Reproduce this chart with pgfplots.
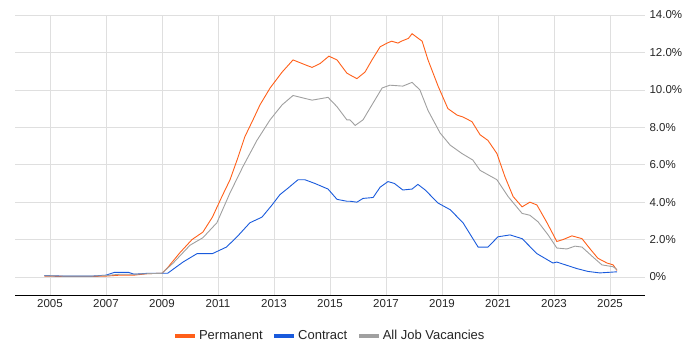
\documentclass[border=0pt]{standalone}
\usepackage{pgfplots}
\pgfplotsset{compat=1.18}
\usepackage{fontspec}
\setmainfont{Liberation Sans}
\definecolor{perm}{RGB}{255,95,25}
\definecolor{contr}{RGB}{25,90,220}
\definecolor{allj}{RGB}{160,160,160}
\begin{document}
\begin{tikzpicture}
\begin{axis}[
  scale only axis, width=630pt, height=280pt,
  xmin=2003.75, xmax=2026.25, ymin=-0.96, ymax=14,
  axis x line*=bottom, axis y line*=right,
  y axis line style={draw=none},
  x axis line style={black, line width=0.9pt, -},
  xtick={2005,2007,...,2025},
  xticklabels={2005,2007,2009,2011,2013,2015,2017,2019,2021,2023,2025},
  ytick={0,2,...,14},
  yticklabels={0\%,2.0\%,4.0\%,6.0\%,8.0\%,10.0\%,12.0\%,14.0\%},
  ytick style={draw=none},
  xtick style={draw=none},
  grid=major, major grid style={gray!25, line width=0.6pt},
  ticklabel style={font=\fontsize{11.5}{13}\selectfont, text=black!85},
  yticklabel style={anchor=west, xshift=1pt},
  xticklabel style={yshift=-1pt},
  legend style={at={(0.5,-0.146)}, anchor=center, draw=none, legend columns=3,
    font=\fontsize{13}{15}\selectfont, text=black!85,
    /tikz/every even column/.append style={column sep=8pt}},
  legend image code/.code={\draw[line width=3.5pt,#1] (0pt,0pt) -- (20pt,0pt);},
  every axis plot/.append style={line width=0.9pt},
]
\addplot[perm] coordinates {
(2004.8,0.05)(2005.5,0.03)(2006.5,0.03)(2007,0.05)(2007.5,0.1)(2008,0.1)(2008.5,0.18)(2009,0.2)
(2009.2,0.5)(2009.64,1.3)(2010.07,2.0)(2010.46,2.4)(2010.8,3.2)(2011.14,4.3)(2011.43,5.2)
(2011.68,6.25)(2011.96,7.5)(2012.25,8.4)(2012.5,9.2)(2012.86,10.1)(2013.29,10.95)(2013.68,11.6)
(2014.18,11.3)(2014.36,11.2)(2014.64,11.4)(2014.96,11.8)(2015.25,11.6)(2015.6,10.9)(2015.71,10.8)
(2015.96,10.6)(2016.25,10.95)(2016.5,11.6)(2016.79,12.3)(2017.04,12.5)(2017.2,12.6)(2017.43,12.5)
(2017.55,12.6)(2017.8,12.75)(2017.93,13.0)(2018.29,12.6)(2018.5,11.6)(2018.86,10.2)(2019.21,9.0)
(2019.54,8.65)(2019.75,8.55)(2020.07,8.3)(2020.36,7.6)(2020.64,7.3)(2020.96,6.6)(2021.25,5.35)
(2021.54,4.3)(2021.86,3.75)(2022.14,4.0)(2022.39,3.85)(2022.75,2.9)(2023.1,1.9)(2023.32,2.0)
(2023.64,2.2)(2024.0,2.05)(2024.29,1.5)(2024.57,1.0)(2024.89,0.75)(2025.11,0.65)(2025.25,0.35)
};
\addlegendentry{Permanent}
\addplot[contr] coordinates {
(2004.8,0.08)(2005.5,0.05)(2006.5,0.05)(2007,0.1)(2007.3,0.25)(2007.8,0.25)(2008,0.15)(2008.5,0.2)(2009,0.2)
(2009.2,0.2)(2009.75,0.8)(2010.25,1.25)(2010.8,1.25)(2011.3,1.6)(2011.68,2.15)(2012.14,2.9)
(2012.57,3.2)(2012.93,3.85)(2013.21,4.4)(2013.5,4.75)(2013.86,5.2)(2014.1,5.2)(2014.46,5.0)
(2014.93,4.7)(2015.25,4.15)(2015.6,4.05)(2015.71,4.05)(2015.96,4.0)(2016.18,4.2)(2016.54,4.25)
(2016.79,4.8)(2017.07,5.1)(2017.3,5.0)(2017.6,4.65)(2017.93,4.7)(2018.14,4.95)(2018.4,4.65)
(2018.86,3.95)(2019.29,3.6)(2019.75,2.9)(2020.29,1.6)(2020.64,1.6)(2021.0,2.15)(2021.43,2.25)
(2021.86,2.05)(2022.39,1.25)(2022.96,0.75)(2023.1,0.8)(2023.82,0.45)(2024.21,0.3)(2024.64,0.22)(2025.25,0.28)
};
\addlegendentry{Contract}
\addplot[allj] coordinates {
(2004.8,0.07)(2005.5,0.05)(2006.5,0.05)(2007,0.08)(2007.5,0.15)(2008,0.15)(2008.5,0.18)(2009,0.2)
(2009.4,0.75)(2010.0,1.7)(2010.46,2.1)(2010.96,2.9)(2011.43,4.5)(2011.89,5.9)(2012.39,7.3)
(2012.86,8.4)(2013.29,9.2)(2013.68,9.7)(2014.36,9.45)(2014.93,9.6)(2015.25,9.1)(2015.6,8.4)
(2015.71,8.4)(2015.9,8.1)(2016.18,8.4)(2016.6,9.45)(2016.86,10.1)(2017.14,10.25)(2017.6,10.2)
(2017.93,10.4)(2018.21,10.0)(2018.5,8.9)(2018.93,7.7)(2019.29,7.05)(2019.71,6.6)(2020.1,6.25)
(2020.36,5.7)(2020.96,5.2)(2021.36,4.3)(2021.86,3.4)(2022.14,3.3)(2022.43,2.95)(2022.79,2.25)
(2023.1,1.55)(2023.46,1.5)(2023.75,1.65)(2024.0,1.6)(2024.39,1.07)(2024.71,0.65)(2025.11,0.55)(2025.25,0.4)
};
\addlegendentry{All Job Vacancies}
\end{axis}
\path (current axis.south west) ++(-15pt,-55pt) rectangle ([xshift=55pt,yshift=15pt]current axis.north east);
\end{tikzpicture}
\end{document}
